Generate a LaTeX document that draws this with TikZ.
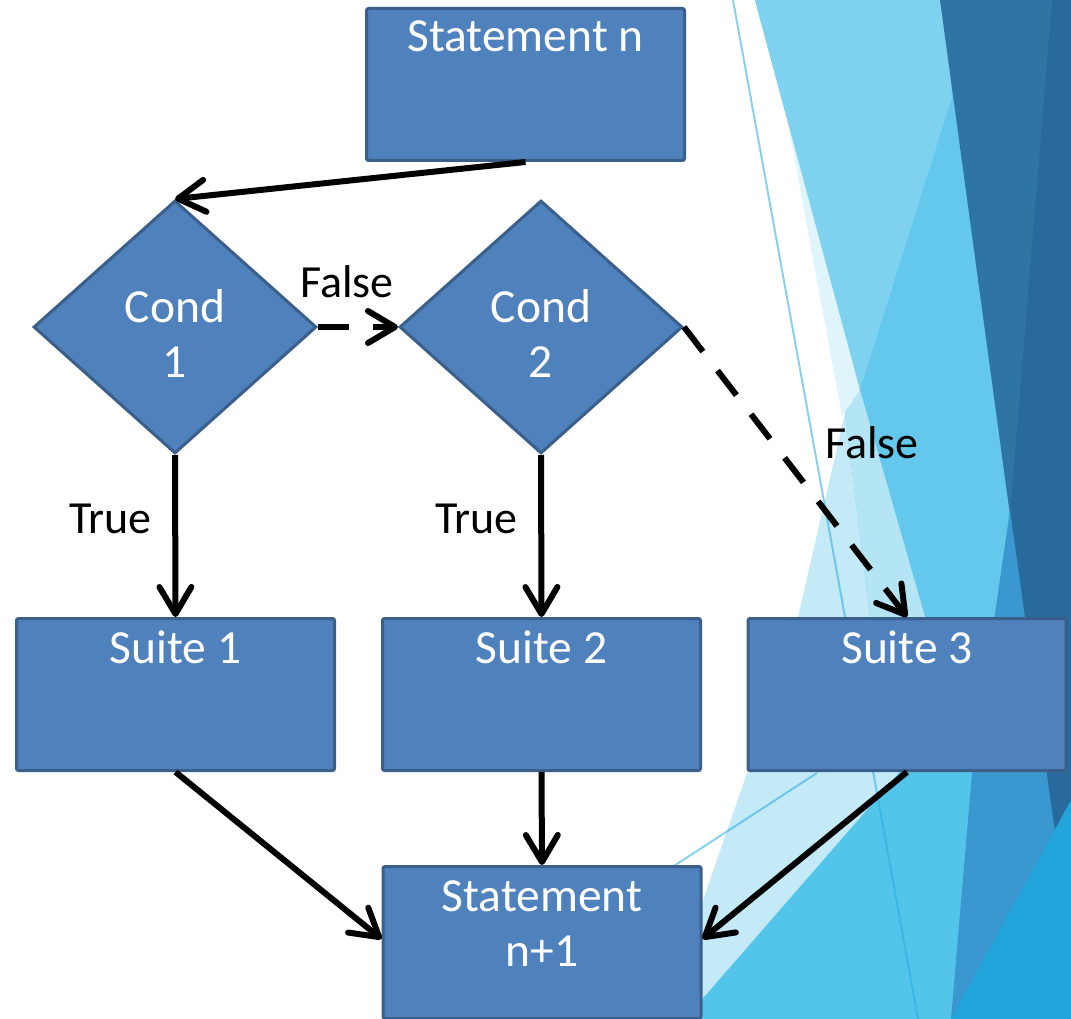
\documentclass[tikz,border=0pt]{standalone}
\usepackage{fontspec}
\setmainfont{Carlito}
\usetikzlibrary{arrows.meta,shapes.geometric,calc}

\definecolor{boxfill}{HTML}{4F81BD}
\definecolor{boxedge}{HTML}{3A5F8B}
\definecolor{facetpale}{HTML}{C4EAF7}
\definecolor{facetwhite}{HTML}{E0F4FB}
\definecolor{facetsoft}{HTML}{B3E5F5}
\definecolor{facetlight}{HTML}{7ED1EF}
\definecolor{facetmid}{HTML}{63C8EC}
\definecolor{facetlow}{HTML}{53C4EA}
\definecolor{facetdarkA}{HTML}{2E75A3}
\definecolor{facetdarkB}{HTML}{276A9B}
\definecolor{facetsteel}{HTML}{3A97D0}
\definecolor{facetbright}{HTML}{21A5DB}
\definecolor{facetline}{HTML}{29ABE2}

\begin{document}
\begin{tikzpicture}[x=1pt,y=-1pt,
  bigfont/.style={font=\fontsize{46}{55}\selectfont},
  shapefont/.style={font=\fontsize{47.5}{55}\selectfont},
  box/.style={rectangle, draw=boxedge, fill=boxfill, line width=3pt,
    minimum width=318pt, minimum height=152pt, rounded corners=2pt, inner sep=0pt},
  cond/.style={diamond, draw=boxedge, fill=boxfill, line width=3pt,
    minimum width=283pt, minimum height=253pt, inner sep=0pt},
  boxtext/.style={shapefont, text=white, align=center, inner sep=0pt},
  lbl/.style={bigfont, text=black, inner sep=0pt},
  conn/.style={line width=6pt, -{Straight Barb[length=27pt,width=32pt,round]}},
  dconn/.style={conn, dash pattern=on 31pt off 24pt},
  facetrule/.style={draw=facetline, draw opacity=0.55, line width=2pt}
]
\useasboundingbox (0,0) rectangle (1071,1019);

% facet background on the right, painted back to front with overlaps
\begin{scope}
\clip (0,0) rectangle (1071,1019);
\fill[facetpale] (858,385) -- (845,413) -- (798,617) -- (747,773) -- (703,900) -- (690,1019)
  -- (960,1019) -- (960,385) -- cycle;
\fill[facetmid] (755,0) -- (1071,0) -- (1071,640) -- (925,640) -- (870,617)
  -- (845,413) -- (860,390) -- cycle;
\fill[facetwhite] (788,123) -- (842,416) -- (860,391) -- (792,116) -- cycle;
\fill[facetlight] (755,0) -- (945,0) -- (952,97) -- (860,390) -- cycle;
\fill[facetsoft] (860,390) -- (845,413) -- (870,617) -- (925,617) -- cycle;
\fill[facetlow] (685,1019) -- (899,773) -- (1071,575) -- (1071,1019) -- cycle;
\fill[facetdarkB] (995,0) -- (1071,0) -- (1071,900) -- (1053,833) -- (1010,515) -- cycle;
\fill[facetdarkA] (940,0) -- (1052,0) -- (1010,515) -- cycle;
\fill[facetsteel] (1010,510) -- (1056,840) -- (1000,1019) -- (951,1019) -- (972,773) -- cycle;
\fill[facetbright] (951,1019) -- (1053,833) -- (1071,800) -- (1071,1019) -- cycle;
\draw[facetrule] (733,0) -- (918,1019);
\draw[facetrule] (817,773) -- (660,875);
\end{scope}

% flowchart shapes
\node[box] (sn) at (525.5,84.5) {};
\node[cond] (c1) at (175,327) {};
\node[cond] (c2) at (541,327) {};
\node[box] (s1) at (175.5,694.5) {};
\node[box] (s2) at (541.5,694.5) {};
\node[box] (s3) at (907,694.5) {};
\node[box] (sn1) at (542,942.5) {};

% texts inside the shapes
\node[boxtext, anchor=base] (snt) at ($(sn.north)+(0,45)$) {Statement n};
\node[boxtext] (c1t) at ($(c1.center)+(0,7)$) {Cond\\1};
\node[boxtext] (c2t) at ($(c2.center)+(0,7)$) {Cond\\2};
\node[boxtext, anchor=base] (s1t) at ($(s1.north)+(0,46)$) {Suite 1};
\node[boxtext, anchor=base] (s2t) at ($(s2.north)+(0,46)$) {Suite 2};
\node[boxtext, anchor=base] (s3t) at ($(s3.north)+(0,46)$) {Suite 3};
% the base of a two-line node is the baseline of its last line
\node[boxtext, anchor=base] (sn1t) at ($(sn1.north)+(0,101.5)$) {Statement\\n+1};

% connectors
\draw[conn] (sn.south) -- (c1.north);
\draw[dconn] (c1.east) -- (c2.west);
\draw[dconn] (c2.east) -- (s3.north);
\draw[conn] (c1.south) -- (s1.north);
\draw[conn] (c2.south) -- (s2.north);
\draw[conn] (s1.south) -- ($(sn1.north west)+(0,74)$);
\draw[conn] (s2.south) -- (sn1.north);
\draw[conn] (s3.south) -- ($(sn1.north east)+(0,74)$);

% branch labels
\node[lbl, anchor=base] (f1) at (347,298) {False};
\node[lbl, anchor=base] (t1) at (110.5,533) {True};
\node[lbl, anchor=base] (t2) at (476.5,533) {True};
\node[lbl, anchor=base] (f2) at (872,458) {False};
\end{tikzpicture}
\end{document}
